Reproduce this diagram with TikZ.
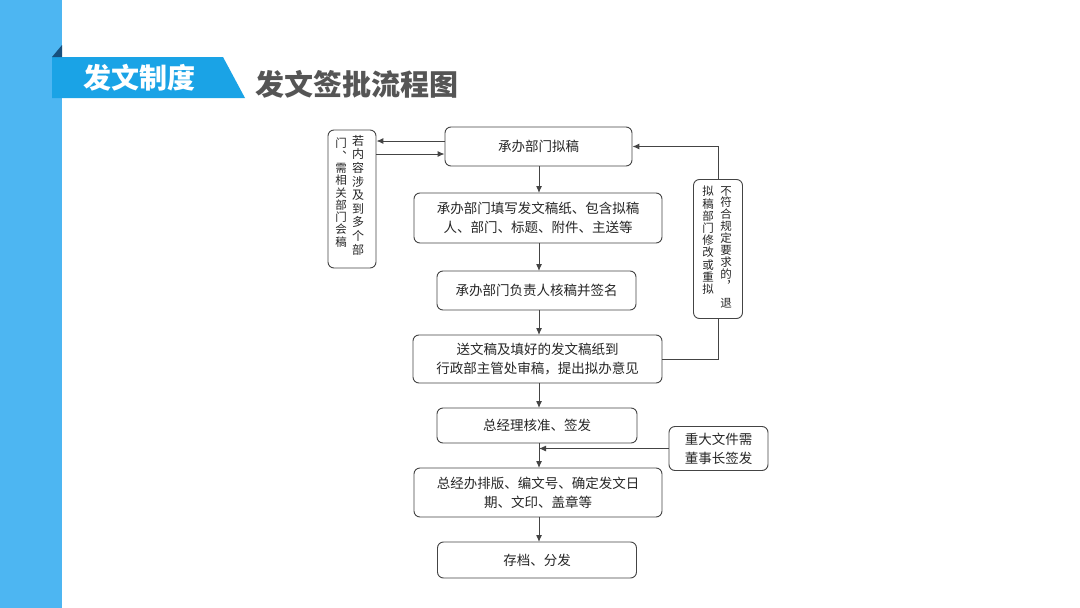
\documentclass[tikz,border=0pt]{standalone}
\usepackage{fontspec}
\setmainfont{Noto Sans CJK SC}
\usetikzlibrary{arrows.meta}
\definecolor{barblue}{HTML}{4DB6F2}
\definecolor{bannerblue}{HTML}{1AA3E6}
\definecolor{darkblue}{HTML}{17507E}
\definecolor{titlegray}{HTML}{555555}
\definecolor{linegray}{HTML}{444444}
\tikzset{
  box/.style={draw=linegray, line width=0.9pt, rounded corners=6pt, align=center, text=black!85,
    font=\fontsize{13.5}{19}\selectfont, inner sep=0pt},
  vtextl/.style={align=center, text=black!85, font=\fontsize{12}{13.6}\selectfont, inner sep=0pt, anchor=north},
  vtextr/.style={align=center, text=black!85, font=\fontsize{11.5}{11.9}\selectfont, inner sep=0pt, anchor=north},
  arr/.style={draw=linegray, line width=1pt, -{Latex[length=7pt,width=6pt]}},
  ln/.style={draw=linegray, line width=1pt}
}
\begin{document}
\begin{tikzpicture}[x=1pt,y=-1pt]
\useasboundingbox (0,0) rectangle (1080,608);
\fill[white] (0,0) rectangle (1080,608);
% header
\fill[barblue] (0,0) rectangle (62,608);
\fill[bannerblue] (52,57) -- (223,57) -- (245,98) -- (52,98) -- cycle;
\fill[darkblue] (52,57) -- (62,45) -- (62,57) -- cycle;
\node[text=white, font=\fontsize{28}{30}\selectfont\bfseries, inner sep=0pt] (bt) at (139,78) {发文制度};
\node[text=titlegray, font=\fontsize{29}{31}\selectfont\bfseries, inner sep=0pt] (tt) at (357,84) {发文签批流程图};
% main boxes
\node[box, minimum width=187pt, minimum height=39pt] (b1) at (538.5,146.5) {承办部门拟稿};
\node[box, minimum width=248pt, minimum height=50pt] (b2) at (538,218) {承办部门填写发文稿纸、包含拟稿\\人、部门、标题、附件、主送等};
\node[box, minimum width=199pt, minimum height=39pt] (b3) at (536.5,290.5) {承办部门负责人核稿并签名};
\node[box, minimum width=249pt, minimum height=48pt] (b4) at (537.5,359) {送文稿及填好的发文稿纸到\\行政部主管处审稿，提出拟办意见};
\node[box, minimum width=200pt, minimum height=35pt] (b5) at (537,425.5) {总经理核准、签发};
\node[box, minimum width=248pt, minimum height=49pt] (b6) at (538,492.5) {总经办排版、编文号、确定发文日\\期、文印、盖章等};
\node[box, minimum width=199pt, minimum height=36pt] (b7) at (537,560) {存档、分发};
% side boxes
\node[box, minimum width=48pt, minimum height=138pt] (L) at (352,199) {};
\node[vtextl] (L1) at (358,135) {若\\内\\容\\涉\\及\\到\\多\\个\\部};
\node[vtextl, font=\fontsize{11.5}{12.3}\selectfont] (L2) at (341,138) {门\\︑\\需\\相\\关\\部\\门\\会\\稿};
\node[box, minimum width=49pt, minimum height=139pt] (R) at (718,249) {};
\node[vtextr] (R1) at (726,186) {不\\符\\合\\规\\定\\要\\求\\的\\︐\\[5pt]退};
\node[vtextr, font=\fontsize{11.5}{12.2}\selectfont] (R2) at (708,186) {拟\\稿\\部\\门\\修\\改\\或\\重\\拟};
\node[box, minimum width=99pt, minimum height=44pt] (S) at (718.5,448.5) {重大文件需\\董事长签发};
% connectors
\draw[arr] (539,166) -- (539,193);
\draw[arr] (539,243) -- (539,271);
\draw[arr] (539,310) -- (539,335);
\draw[arr] (539,383) -- (539,408);
\draw[arr] (539,443) -- (539,468);
\draw[arr] (539,517) -- (539,542);
\draw[arr] (b1.west |- 0,141) -- (L.east |- 0,141);
\draw[arr] (L.east |- 0,154) -- (b1.west |- 0,154);
\draw[ln] (b4.east) -- (R.south |- b4.east) -- (R.south);
\draw[arr] (R.north) -- (R.north |- b1.east) -- (b1.east);
\draw[arr] (S.west) -- (539,448.5);
\end{tikzpicture}
\end{document}
